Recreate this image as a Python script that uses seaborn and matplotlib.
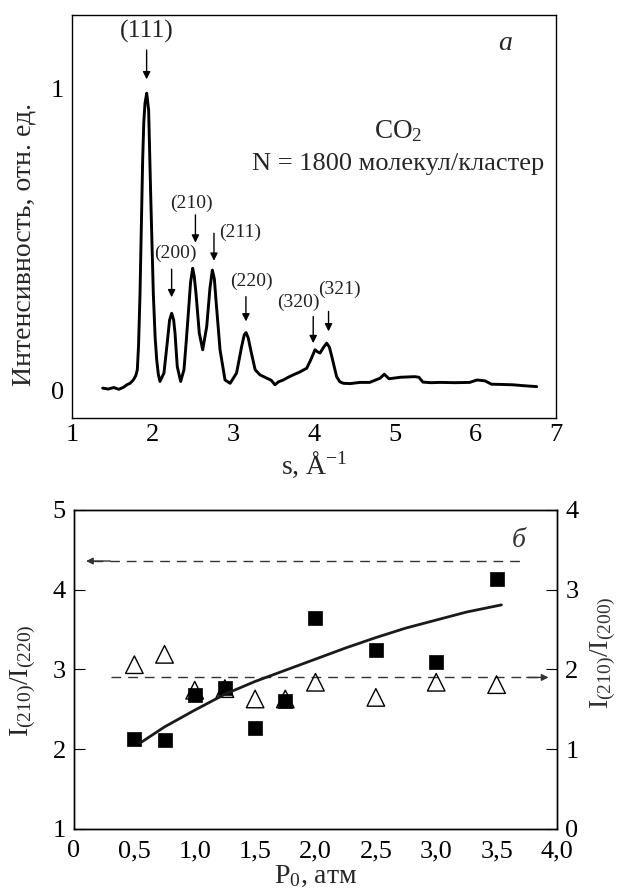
import numpy as np
import pandas as pd
import matplotlib
matplotlib.use('Agg')
import matplotlib.pyplot as plt
import seaborn as sns

# panel a: electron diffraction profile of CO2 clusters, N = 1800
s_vals = [1.38, 1.45, 1.52, 1.58, 1.64, 1.68, 1.72, 1.76, 1.79, 1.81, 1.825, 1.843,
          1.86, 1.876, 1.89, 1.905, 1.926, 1.95, 1.975, 2.008, 2.03, 2.05, 2.07, 2.09,
          2.14, 2.18, 2.21, 2.236, 2.26, 2.277, 2.305, 2.347, 2.388, 2.415, 2.442, 2.47,
          2.496, 2.515, 2.537, 2.578, 2.62, 2.67, 2.71, 2.74, 2.765, 2.785, 2.835, 2.897,
          2.96, 3.04, 3.103, 3.135, 3.157, 3.185, 3.215, 3.27, 3.33, 3.414, 3.47, 3.516,
          3.56, 3.62, 3.68, 3.743, 3.82, 3.91, 3.96, 4.012, 4.04, 4.074, 4.12, 4.157,
          4.19, 4.22, 4.28, 4.32, 4.364, 4.45, 4.57, 4.69, 4.82, 4.87, 4.93, 5.07, 5.25,
          5.3, 5.35, 5.45, 5.56, 5.75, 5.93, 6.02, 6.12, 6.2, 6.35, 6.47, 6.6, 6.76]
intensity = [0.009, 0.006, 0.011, 0.005, 0.012, 0.02, 0.025, 0.036, 0.05, 0.07, 0.15,
             0.32, 0.55, 0.765, 0.89, 0.953, 0.986, 0.93, 0.655, 0.323, 0.18, 0.103,
             0.055, 0.031, 0.059, 0.158, 0.235, 0.257, 0.235, 0.191, 0.08, 0.031, 0.07,
             0.16, 0.257, 0.36, 0.406, 0.38, 0.323, 0.191, 0.136, 0.213, 0.34, 0.40,
             0.37, 0.30, 0.136, 0.036, 0.025, 0.059, 0.147, 0.185, 0.193, 0.175, 0.136,
             0.07, 0.053, 0.042, 0.035, 0.02, 0.03, 0.036, 0.045, 0.053, 0.062, 0.075,
             0.103, 0.136, 0.13, 0.125, 0.145, 0.158, 0.145, 0.114, 0.047, 0.03, 0.025,
             0.024, 0.028, 0.028, 0.042, 0.055, 0.04, 0.045, 0.047, 0.045, 0.029, 0.027,
             0.028, 0.027, 0.028, 0.036, 0.033, 0.022, 0.021, 0.02, 0.017, 0.014]

peak_names = ['(111)', '(200)', '(210)', '(211)', '(220)', '(320)', '(321)']
peak_s = [1.925, 2.235, 2.53, 2.76, 3.156, 3.99, 4.18]

# panel b: intensity ratios vs. stagnation pressure
p0 = [0.5, 0.75, 1.0, 1.25, 1.5, 1.75, 2.0, 2.5, 3.0, 3.5]
ratio_210_220 = [2.13, 2.11, 2.68, 2.77, 2.27, 2.60, 3.64, 3.24, 3.09, 4.13]
ratio_210_200 = [2.06, 2.19, 1.74, 1.76, 1.63, 1.63, 1.84, 1.65, 1.84, 1.81]
fit_p0 = [0.55, 0.75, 1.0, 1.25, 1.5, 1.75, 2.0, 2.25, 2.5, 2.75, 3.0, 3.25, 3.54]
fit_ratio = [2.08, 2.28, 2.49, 2.69, 2.85, 2.99, 3.13, 3.27, 3.40, 3.52, 3.62, 3.72, 3.81]
mean_left = 4.36   # dashed reference, left axis
mean_right = 1.90  # dashed reference, right axis

sns.set_style('white')
plt.rcParams['font.family'] = ['Liberation Serif', 'DejaVu Serif']
plt.rcParams['mathtext.fontset'] = 'custom'
plt.rcParams['mathtext.rm'] = 'Liberation Serif'
plt.rcParams['mathtext.it'] = 'Liberation Serif:italic'
plt.rcParams['axes.linewidth'] = 1.0
plt.rcParams['axes.edgecolor'] = 'k'

fs_tick = 19
fs_lab = 20

fig = plt.figure(figsize=(6.19, 8.93), dpi=100)

# ---------- panel a ----------
ax = fig.add_axes([0.1163, 0.5319, 0.782, 0.4513])
sns.lineplot(x=s_vals, y=intensity, ax=ax, color='k', lw=2.1, sort=False)
ax.set_xlim(1, 7)
ax.set_ylim(-0.09, 1.245)
ax.set_xticks(range(1, 8))
ax.set_yticks([0, 1])
ax.tick_params(direction='in', length=8, width=0.8, labelsize=fs_tick, colors='k', pad=6)
ax.tick_params(axis='x', pad=4)
ax.set_xlabel('s, Å$^{-1}$', fontsize=fs_lab)
ax.xaxis.set_label_coords(0.5, -0.078)
ax.set_ylabel('Интенсивность, отн. ед.', fontsize=fs_lab)
ax.yaxis.set_label_coords(-0.074, 0.43)

# peak markers: arrow start/end heights and label offsets
arrow_top = [1.129, 0.403, 0.583, 0.522, 0.312, 0.246, 0.263]
arrow_tip = [1.032, 0.31, 0.491, 0.431, 0.23, 0.158, 0.197]
label_xy = [(1.93, 1.19), (2.28, 0.455), (2.475, 0.62), (3.09, 0.525),
            (3.23, 0.362), (3.80, 0.293), (4.32, 0.337)]
for i, name in enumerate(peak_names):
    ax.annotate('', xy=(peak_s[i], arrow_tip[i]), xytext=(peak_s[i], arrow_top[i]),
                arrowprops=dict(arrowstyle='-|>', color='k', lw=1.0,
                                mutation_scale=11, shrinkA=0, shrinkB=0))
    ax.text(label_xy[i][0], label_xy[i][1], name, ha='center', va='center',
            fontsize=18.5 if i == 0 else 14, color='#222222')

ax.text(5.04, 0.86, 'CO$_2$', ha='center', va='center', fontsize=19.5)
ax.text(5.04, 0.75, 'N = 1800 молекул/кластер', ha='center', va='center', fontsize=19)
ax.text(6.37, 1.15, 'а', ha='center', va='center', fontsize=20, style='italic')

# ---------- panel b ----------
bx = fig.add_axes([0.1195, 0.0717, 0.7803, 0.3572])
bx2 = bx.twinx()

sns.scatterplot(x=p0, y=ratio_210_200, ax=bx2, marker='^', s=160,
                facecolors='none', edgecolor='k', linewidth=1.0, zorder=3)
sns.scatterplot(x=p0, y=ratio_210_220, ax=bx, marker='s', s=100,
                color='k', edgecolor='k', linewidth=0.5, zorder=4)
sns.lineplot(x=fit_p0, y=fit_ratio, ax=bx, color='#1a1a1a', lw=2.0, zorder=5)

bx.set_zorder(bx2.get_zorder() + 1)
bx.patch.set_visible(False)

bx.set_xlim(0, 4)
bx.set_ylim(1, 5)
bx2.set_ylim(0, 4)
bx.set_xticks(np.arange(0, 4.01, 0.5))
bx.set_xticklabels(['0', '0,5', '1,0', '1,5', '2,0', '2,5', '3,0', '3,5', '4,0'])
bx.set_yticks([1, 2, 3, 4, 5])
bx2.set_yticks([0, 1, 2, 3, 4])
bx.tick_params(direction='in', length=8, width=0.8, labelsize=fs_tick, colors='k', pad=6)
bx.tick_params(axis='x', pad=8)
bx2.tick_params(direction='in', length=8, width=0.8, labelsize=fs_tick, colors='k', pad=6)

# dashed reference lines with arrows pointing to their axes
dash_col = '#333333'
bx.plot([0.16, 3.74], [mean_left, mean_left], ls=(0, (7, 5)), color=dash_col, lw=1.0)
bx.annotate('', xy=(0.1, mean_left), xytext=(0.3, mean_left),
            arrowprops=dict(arrowstyle='-|>', color=dash_col, lw=1.0,
                            mutation_scale=10, shrinkA=0, shrinkB=0))
bx2.plot([0.31, 3.86], [mean_right, mean_right], ls=(0, (7, 5)), color=dash_col, lw=1.0)
bx2.annotate('', xy=(3.93, mean_right), xytext=(3.75, mean_right),
             arrowprops=dict(arrowstyle='-|>', color=dash_col, lw=1.0,
                             mutation_scale=10, shrinkA=0, shrinkB=0))

bx.text(3.68, 4.62, 'б', ha='center', va='center', fontsize=20, style='italic',
        color='#333333')

bx.set_xlabel('P$_0$, атм', fontsize=fs_lab)
bx.xaxis.set_label_coords(0.5, -0.108)
bx.set_ylabel('I$_{(210)}$/I$_{(220)}$', fontsize=fs_lab)
bx.yaxis.set_label_coords(-0.074, 0.464)
bx2.set_ylabel('I$_{(210)}$/I$_{(200)}$', fontsize=fs_lab, color='#333333')
bx2.yaxis.set_label_coords(1.064, 0.552)

for a in (ax, bx, bx2):
    for sp in a.spines.values():
        sp.set_visible(True)
        sp.set_color('k')

fig.savefig('out.png', dpi=100)
